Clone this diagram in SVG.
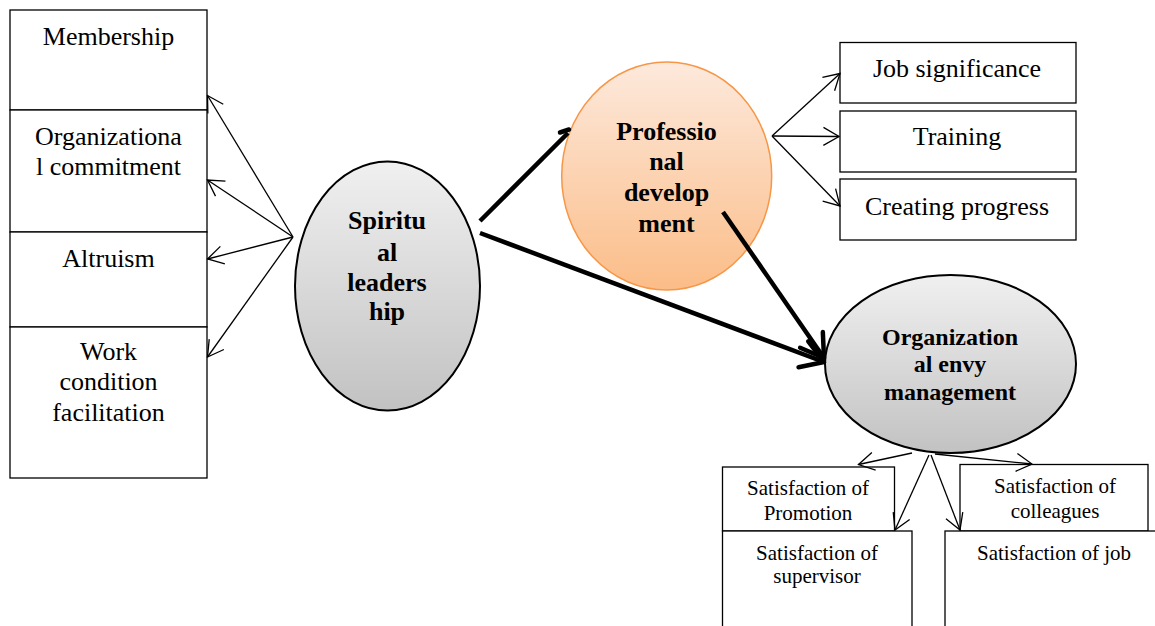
<svg xmlns="http://www.w3.org/2000/svg" width="1155" height="626" viewBox="0 0 1155 626">
<style>
.box{fill:#fff;stroke:#000;stroke-width:1.3}
.t{font-family:"Liberation Serif","Times New Roman",serif;fill:#000;text-anchor:middle}
.t26{font-size:26px}
.t21{font-size:21px}
.b{font-weight:bold}
.thin{fill:none;stroke:#000;stroke-width:1.3}
.thick{fill:none;stroke:#000;stroke-width:4.5}
</style>
<defs>
<linearGradient id="gray" x1="0" y1="0" x2="0" y2="1">
<stop offset="0" stop-color="#f0f0f0"/>
<stop offset="1" stop-color="#c2c2c2"/>
</linearGradient>
<linearGradient id="orange" x1="0" y1="0" x2="0" y2="1">
<stop offset="0" stop-color="#fde9dc"/>
<stop offset="1" stop-color="#fbbd88"/>
</linearGradient>
<marker id="open" markerUnits="userSpaceOnUse" markerWidth="40" markerHeight="40" refX="20" refY="20" orient="auto" overflow="visible">
<path d="M 4.4 11 L 20 20 L 4.4 29" fill="none" stroke="#000" stroke-width="1.3"/>
</marker>
<marker id="openBig" markerUnits="userSpaceOnUse" markerWidth="50" markerHeight="50" refX="24" refY="20" orient="auto" overflow="visible">
<path d="M 2 6.2 L 24 20 L 2 33.8" fill="none" stroke="#000" stroke-width="4.5" stroke-linecap="round" stroke-linejoin="round"/>
</marker>
</defs>
<rect width="1155" height="626" fill="#fff"/>

<g id="membership">
<rect class="box" x="10" y="10" width="197" height="100"/>
<text class="t t26" x="108.5" y="45">Membership</text>
</g>
<g id="org-commitment">
<rect class="box" x="10" y="110" width="197" height="122"/>
<text class="t t26" x="108.5" y="145">Organizationa</text>
<text class="t t26" x="108.5" y="175">l commitment</text>
</g>
<g id="altruism">
<rect class="box" x="10" y="232" width="197" height="95"/>
<text class="t t26" x="108.5" y="267">Altruism</text>
</g>
<g id="work-condition">
<rect class="box" x="10" y="327" width="197" height="151"/>
<text class="t t26" x="108.5" y="360">Work</text>
<text class="t t26" x="108.5" y="390">condition</text>
<text class="t t26" x="108.5" y="421">facilitation</text>
</g>

<g id="spiritual-leadership">
<ellipse cx="387.5" cy="286" rx="92.5" ry="124.5" fill="url(#gray)" stroke="#000" stroke-width="2"/>
<text class="t t26 b" x="387" y="229">Spiritu</text>
<text class="t t26 b" x="387" y="261">al</text>
<text class="t t26 b" x="387" y="291">leaders</text>
<text class="t t26 b" x="387" y="320">hip</text>
</g>

<g id="professional-development">
<ellipse cx="666.7" cy="176" rx="105" ry="114" fill="url(#orange)" stroke="#f79646" stroke-width="1.5"/>
<text class="t t26 b" x="666.5" y="140">Professio</text>
<text class="t t26 b" x="666.5" y="170">nal</text>
<text class="t t26 b" x="666.5" y="201">develop</text>
<text class="t t26 b" x="666.5" y="232">ment</text>
</g>

<g id="job-significance">
<rect class="box" x="840" y="42.5" width="236" height="60.5"/>
<text class="t t26" x="957" y="77">Job significance</text>
</g>
<g id="training">
<rect class="box" x="840" y="111" width="236" height="61"/>
<text class="t t26" x="957" y="145">Training</text>
</g>
<g id="creating-progress">
<rect class="box" x="840" y="179" width="236" height="61"/>
<text class="t t26" x="957" y="215">Creating progress</text>
</g>

<g id="org-envy-management">
<ellipse cx="950.5" cy="364" rx="125.5" ry="89" fill="url(#gray)" stroke="#000" stroke-width="2"/>
<text class="t b" style="font-size:24px" x="950" y="345">Organization</text>
<text class="t b" style="font-size:24px" x="950" y="372">al envy</text>
<text class="t b" style="font-size:24px" x="950" y="400">management</text>
</g>

<g id="sat-promotion">
<rect class="box" x="722.5" y="467" width="172" height="64"/>
<text class="t t21" x="808" y="495">Satisfaction of</text>
<text class="t t21" x="808" y="520">Promotion</text>
</g>
<g id="sat-colleagues">
<rect class="box" x="960" y="464.5" width="188" height="66.5"/>
<text class="t t21" x="1055" y="493">Satisfaction of</text>
<text class="t t21" x="1055" y="518">colleagues</text>
</g>
<g id="sat-supervisor">
<rect class="box" x="722.5" y="531" width="189.5" height="110"/>
<text class="t t21" x="817" y="560">Satisfaction of</text>
<text class="t t21" x="817" y="583">supervisor</text>
</g>
<g id="sat-job">
<rect class="box" x="945" y="531" width="220" height="110"/>
<text class="t t21" x="1054" y="560">Satisfaction of job</text>
</g>

<g id="connectors">
<line class="thin" x1="293" y1="237" x2="207.5" y2="95.5" marker-end="url(#open)"/>
<line class="thin" x1="293" y1="237" x2="207.5" y2="180" marker-end="url(#open)"/>
<line class="thin" x1="293" y1="237" x2="207.5" y2="259" marker-end="url(#open)"/>
<line class="thin" x1="293" y1="237" x2="207.5" y2="357" marker-end="url(#open)"/>

<line class="thin" x1="772" y1="136" x2="840" y2="73.5" marker-end="url(#open)"/>
<line class="thin" x1="772" y1="136" x2="839" y2="136.5" marker-end="url(#open)"/>
<line class="thin" x1="772" y1="136" x2="840" y2="206" marker-end="url(#open)"/>

<line class="thick" x1="480" y1="221" x2="568" y2="133"/>
<path class="thick" d="M 569 129.5 L 560 132.5" stroke-linecap="round"/>
<line class="thick" x1="480" y1="233" x2="824" y2="362" marker-end="url(#openBig)"/>
<line class="thick" x1="723" y1="212" x2="824" y2="358" marker-end="url(#openBig)"/>

<line class="thin" x1="912" y1="453" x2="858.5" y2="464.5" marker-end="url(#open)"/>
<line class="thin" x1="929" y1="455" x2="895" y2="530" marker-end="url(#open)"/>
<line class="thin" x1="931" y1="455" x2="960" y2="530" marker-end="url(#open)"/>
<line class="thin" x1="935" y1="454" x2="1032" y2="464" marker-end="url(#open)"/>
</g>
</svg>
